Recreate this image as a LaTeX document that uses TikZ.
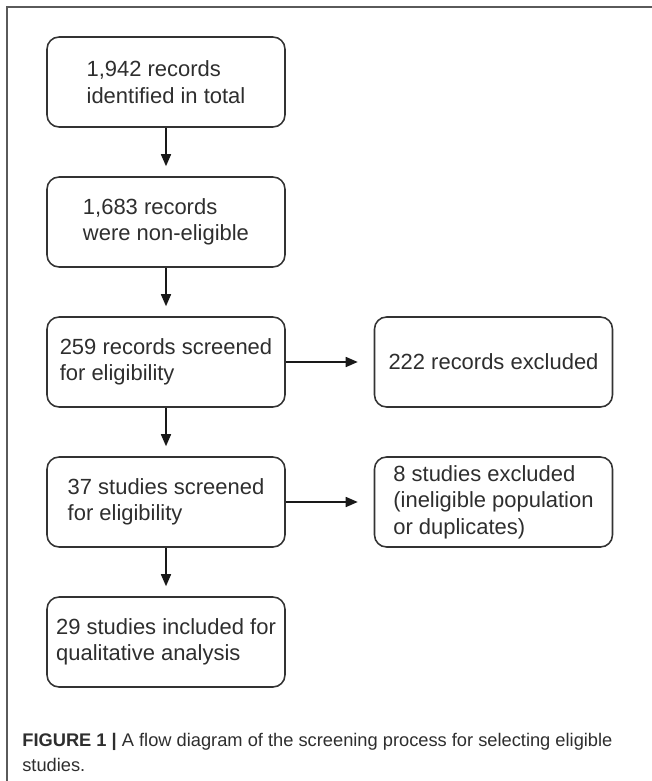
\documentclass[tikz,border=0pt]{standalone}
\usepackage{fontspec}
\setmainfont{Liberation Sans}
\usepackage{tikz}
\usetikzlibrary{arrows.meta, positioning}
\definecolor{boxtext}{HTML}{2E2E2E}
\definecolor{frameline}{HTML}{5A5A5A}
\tikzset{
  flow_box/.style={rectangle, draw=black!80, line width=0.9pt, rounded corners=2.4mm, minimum width=4.76cm, minimum height=1.8cm, align=left, inner sep=1pt, text=boxtext, font=\fontsize{12.5}{15}\selectfont},
  arrow/.style={-{Triangle[width=2mm, length=2.4mm]}, line width=0.9pt, black!90, shorten >=2mm},
  caption_text/.style={align=left, text=boxtext, inner sep=0pt, font=\fontsize{10.4}{14.2}\selectfont}
}

\begin{document}
\begin{tikzpicture}[x=0.02cm, y=-0.02cm]

  % Page size and frame
  \useasboundingbox (0,0) rectangle (652,781);
  \draw[frameline, line width=0.8pt] (652,7) -- (7,7) -- (7,781);

  % Main column
  \node[flow_box] (total) at (166,82) {1,942 records\\identified in total};
  \node[flow_box] (noneligible) at (166,222) {1,683 records\\were non-eligible};
  \node[flow_box] (screened_rec) at (166,362) {259 records screened\\for eligibility};
  \node[flow_box] (screened_stud) at (166,502) {37 studies screened\\for eligibility};
  \node[flow_box] (included) at (166,642) {29 studies included for\\qualitative analysis};

  % Exclusions
  \node[flow_box] (excl_rec) at (493.5,362) {222 records excluded};
  \node[flow_box] (excl_stud) at (493.5,502) {8 studies excluded\\(ineligible population\\or duplicates)};

  % Arrows
  \draw[arrow] (total) -- (noneligible);
  \draw[arrow] (noneligible) -- (screened_rec);
  \draw[arrow] (screened_rec) -- (screened_stud);
  \draw[arrow] (screened_stud) -- (included);
  \draw[arrow, shorten >=3.2mm] (screened_rec) -- (excl_rec);
  \draw[arrow, shorten >=3.2mm] (screened_stud) -- (excl_stud);

  % Caption
  \node[caption_text, anchor=west] (caption) at (22,752) {\textbf{FIGURE 1 |} A flow diagram of the screening process for selecting eligible\\studies.};

\end{tikzpicture}
\end{document}
